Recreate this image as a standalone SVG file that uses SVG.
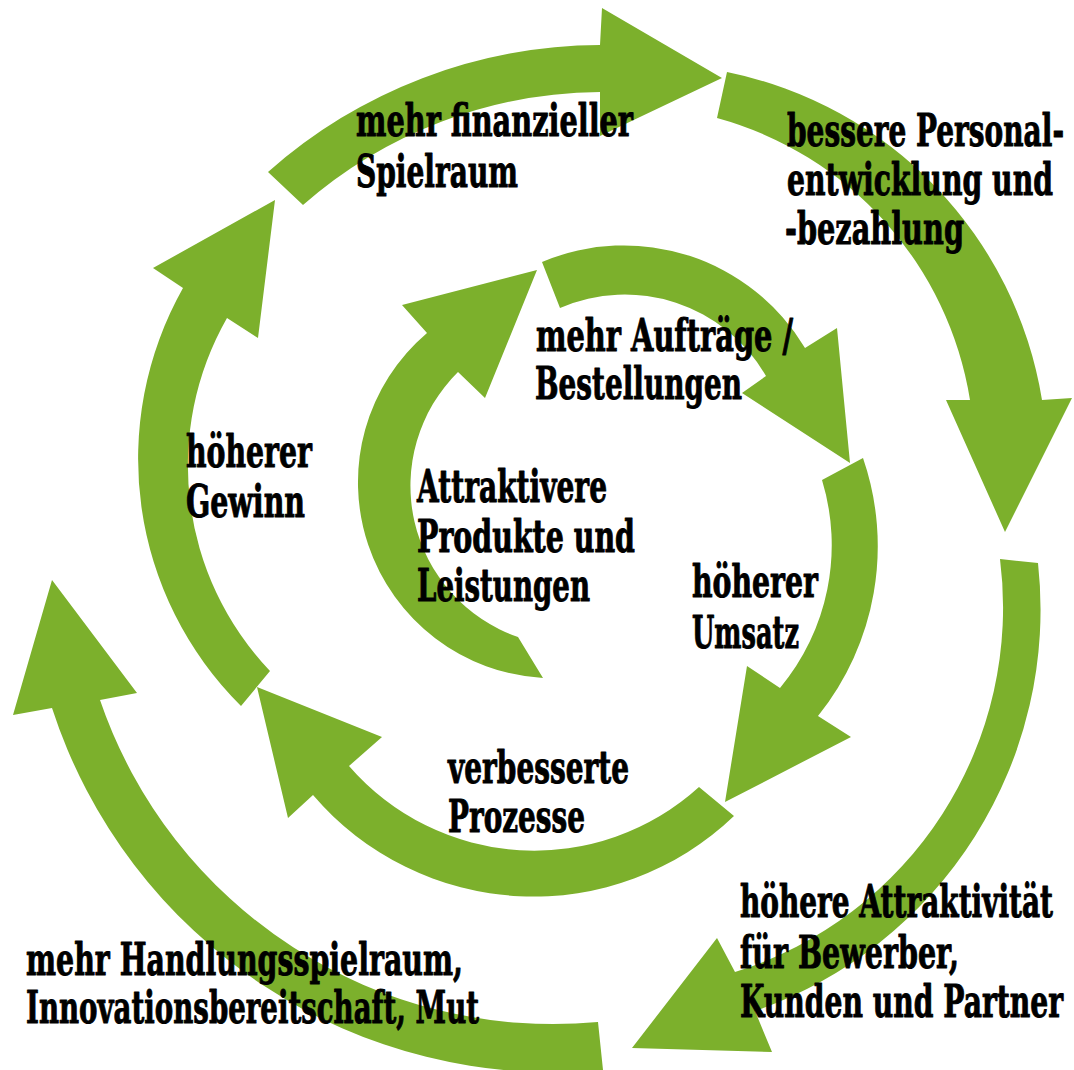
<svg xmlns="http://www.w3.org/2000/svg" width="1074" height="1070" viewBox="0 0 1074 1070">
<style>
.arrow{fill:#7CB02C;stroke:none}
.t{font-family:"DejaVu Serif","Liberation Serif",serif;font-weight:bold;font-size:44px;fill:#000;stroke:#000;stroke-width:1px;stroke-linejoin:round}
</style>
<rect width="1074" height="1070" fill="#fff"/>
<g id="connectors">
<path id="a1" class="arrow" d="M543 678 A196 196 0 0 1 427 333 L402 305 L537 270 L485 398 L458 372 A160 160 0 0 0 518 637 Z"/>
<path id="a2" class="arrow" d="M542 262 A211 211 0 0 1 805 348 L837 328 L850 463 L742 393 L766 376 A163 163 0 0 0 560 308 Z"/>
<path id="a3" class="arrow" d="M863 458 A271 271 0 0 1 818 716 L851 737 L725 802 L747 666 L780 688 A223 223 0 0 0 822 480 Z"/>
<path id="a4" class="arrow" d="M734 816 A290 290 0 0 1 313 795 L288 818 L257 687 L382 737 L349 766 A245 245 0 0 0 699 787 Z"/>
<path id="a5" class="arrow" d="M241 706 A348 348 0 0 1 183 288 L153 268 L275 200 L258 338 L227 318 A298 298 0 0 0 270 671 Z"/>
<path id="b1" class="arrow" d="M268 172 A502 502 0 0 1 600 45 L602 8 L722 78 L600 136 L600 92 A455 455 0 0 0 303 205 Z"/>
<path id="b2" class="arrow" d="M727 72 A400 400 0 0 1 1042 400 L1072 398 L1005 532 L946 400 L970 400 A350 350 0 0 0 717 118 Z"/>
<path id="b3" class="arrow" d="M1038 563 A425 425 0 0 1 755 1011 L772 1052 L632 1048 L717 938 L735 972 A382 382 0 0 0 1000 559 Z"/>
<path id="b4" class="arrow" d="M603 1070 A527 527 0 0 1 52 708 L13 715 L52 580 L137 693 L100 700 A479 479 0 0 0 598 1022 Z"/>
</g>
<g id="n-finanz"><text class="t" x="356" y="136" textLength="277" lengthAdjust="spacingAndGlyphs">mehr finanzieller</text><text class="t" x="356" y="187" textLength="162" lengthAdjust="spacingAndGlyphs">Spielraum</text></g>
<g id="n-personal"><text class="t" x="787" y="146" textLength="277" lengthAdjust="spacingAndGlyphs">bessere Personal-</text><text class="t" x="787" y="195" textLength="266" lengthAdjust="spacingAndGlyphs">entwicklung und</text><text class="t" x="785" y="244" textLength="179" lengthAdjust="spacingAndGlyphs">-bezahlung</text></g>
<g id="n-auftraege"><text class="t" x="536" y="351" textLength="257" lengthAdjust="spacingAndGlyphs">mehr Aufträge /</text><text class="t" x="535" y="399" textLength="207" lengthAdjust="spacingAndGlyphs">Bestellungen</text></g>
<g id="n-gewinn"><text class="t" x="186" y="467" textLength="126" lengthAdjust="spacingAndGlyphs">höherer</text><text class="t" x="186" y="517" textLength="119" lengthAdjust="spacingAndGlyphs">Gewinn</text></g>
<g id="n-produkte"><text class="t" x="417" y="502" textLength="190" lengthAdjust="spacingAndGlyphs">Attraktivere</text><text class="t" x="417" y="552" textLength="218" lengthAdjust="spacingAndGlyphs">Produkte und</text><text class="t" x="417" y="601" textLength="173" lengthAdjust="spacingAndGlyphs">Leistungen</text></g>
<g id="n-umsatz"><text class="t" x="692" y="597" textLength="126" lengthAdjust="spacingAndGlyphs">höherer</text><text class="t" x="692" y="648" textLength="107" lengthAdjust="spacingAndGlyphs">Umsatz</text></g>
<g id="n-prozesse"><text class="t" x="448" y="783" textLength="181" lengthAdjust="spacingAndGlyphs">verbesserte</text><text class="t" x="448" y="832" textLength="137" lengthAdjust="spacingAndGlyphs">Prozesse</text></g>
<g id="n-attraktiv"><text class="t" x="740" y="917" textLength="313" lengthAdjust="spacingAndGlyphs">höhere Attraktivität</text><text class="t" x="740" y="968" textLength="219" lengthAdjust="spacingAndGlyphs">für Bewerber,</text><text class="t" x="740" y="1017" textLength="323" lengthAdjust="spacingAndGlyphs">Kunden und Partner</text></g>
<g id="n-handlung"><text class="t" x="26" y="975" textLength="437" lengthAdjust="spacingAndGlyphs">mehr Handlungsspielraum,</text><text class="t" x="26" y="1023" textLength="453" lengthAdjust="spacingAndGlyphs">Innovationsbereitschaft, Mut</text></g>
</svg>
